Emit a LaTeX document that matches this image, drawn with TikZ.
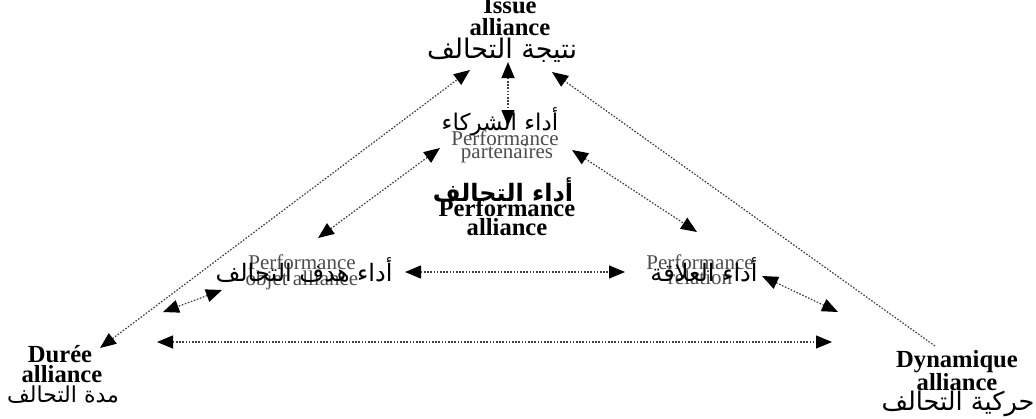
\documentclass[tikz,border=0pt]{standalone}
\usepackage{fontspec}
\setmainfont{Liberation Serif}
\newfontfamily\arabicfont[Script=Arabic]{DejaVu Sans}
\TeXXeTstate=1
\usetikzlibrary{arrows.meta}
\begin{document}
\begin{tikzpicture}[x=0.5pt,y=-0.5pt,
  bl/.style={inner sep=0pt, font=\fontsize{12.3}{14}\selectfont\bfseries, text=black},
  gr/.style={inner sep=0pt, font=\fontsize{10.5}{12}\selectfont, text=black!70},
  ar/.style={inner sep=0pt, font=\arabicfont\fontsize{11.5}{13}\selectfont, text=black},
  arb/.style={inner sep=0pt, font=\arabicfont\fontsize{12}{13}\selectfont\bfseries, text=black},
  conn/.style={draw=black!75, line width=0.6pt, dash pattern=on 0.8pt off 0.8pt},
  both/.style={conn, {Triangle[length=8pt,width=6.5pt,color=black]}-{Triangle[length=8pt,width=6.5pt,color=black]}},
  one/.style={conn, -{Triangle[length=8pt,width=6.5pt,color=black]}}]
\useasboundingbox (0,0) rectangle (1036,418);
% texts
\node[bl] (issue) at (510,6) {Issue};
\node[bl] (issuea) at (510,27) {alliance};
\node[ar, font=\arabicfont\fontsize{13.5}{15}\selectfont] (issuear) at (502,50) {\beginR نتيجة التحالف\endR};

\node[ar] (partar) at (500,122) {\beginR أداء الشركاء\endR};
\node[gr] (part1) at (505,138) {Performance};
\node[gr] (part2) at (507,154) {partenaires};

\node[arb] (perfar) at (503,190) {\beginR أداء التحالف\endR};
\node[bl] (perf1) at (507,208) {Performance};
\node[bl] (perf2) at (507,227) {alliance};

\node[gr] (obj1) at (302,262) {Performance};
\node[gr] (obj2) at (302,280) {objet alliance};
\node[ar, font=\arabicfont\fontsize{12}{13}\selectfont] (objar) at (304,270) {\beginR أداء هدف التحالف\endR};

\node[gr] (rel1) at (700,262) {Performance};
\node[gr] (rel2) at (700,277) {relation};
\node[ar, font=\arabicfont\fontsize{12}{13}\selectfont] (relar) at (704,270) {\beginR أداء العلاقة\endR};

\node[bl] (duree) at (60,354) {Durée};
\node[bl] (dureea) at (62,374) {alliance};
\node[ar, font=\arabicfont\fontsize{11}{13}\selectfont] (dureear) at (63,395) {\beginR مدة التحالف\endR};

\node[bl] (dyn) at (957,362) {Dynamique};
\node[bl] (dyna) at (957,382) {alliance};
\node[ar, font=\arabicfont\fontsize{12.8}{14}\selectfont] (dynar) at (958,404) {\beginR حركية التحالف\endR};

% connector end points
\coordinate (vT) at (508,62);
\coordinate (vB) at (508,126);
\coordinate (lT) at (470,70);
\coordinate (lB) at (100,348);
\coordinate (rT) at (552,72);
\coordinate (rB) at (935,346);
\coordinate (plA) at (318,238);
\coordinate (plB) at (440,148);
\coordinate (prA) at (572,150);
\coordinate (prB) at (697,232);
\coordinate (mhA) at (405,272);
\coordinate (mhB) at (625,272);
\coordinate (rrA) at (762,276);
\coordinate (rrB) at (838,312);
\coordinate (llA) at (222,290);
\coordinate (llB) at (163,312);
\coordinate (bA) at (157,342);
\coordinate (bB) at (832,342);

\draw[both] (vT) -- (vB);
\draw[both] (lB) -- (lT);
\draw[one] (rB) -- (rT);
\draw[both] (plA) -- (plB);
\draw[both] (prA) -- (prB);
\draw[both] (mhA) -- (mhB);
\draw[both] (rrA) -- (rrB);
\draw[both] (llA) -- (llB);
\draw[both] (bA) -- (bB);
\end{tikzpicture}
\end{document}
